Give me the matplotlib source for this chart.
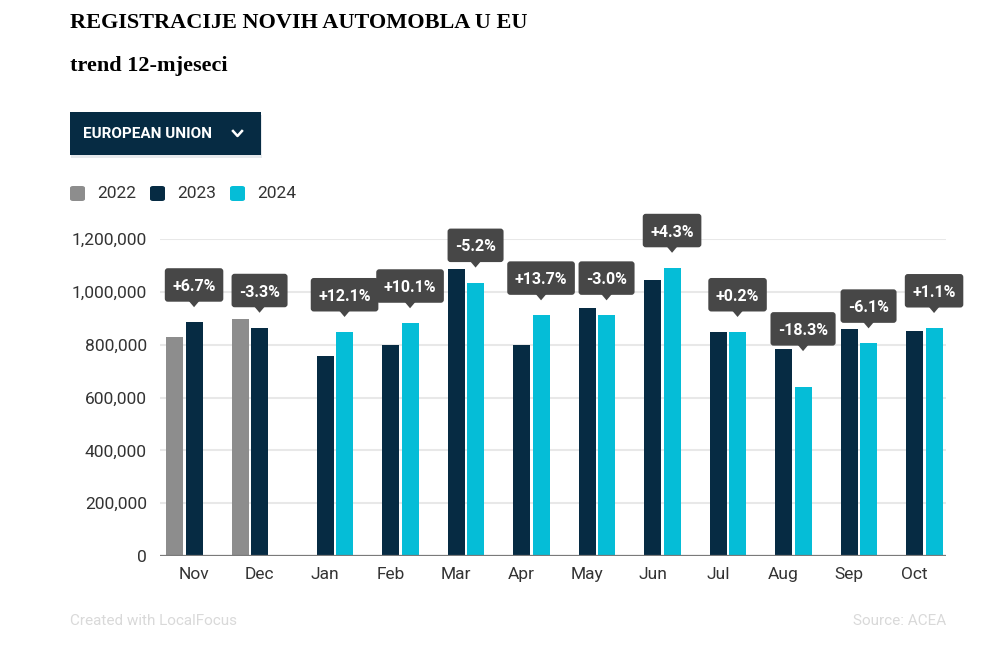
import numpy as np
import matplotlib.pyplot as plt
from matplotlib.patches import FancyBboxPatch, Polygon
from matplotlib.lines import Line2D

plt.rcParams["font.family"] = ["Roboto", "DejaVu Sans"]

# data (new car registrations, EU)
months = ["Nov", "Dec", "Jan", "Feb", "Mar", "Apr", "May", "Jun", "Jul", "Aug", "Sep", "Oct"]
v2022 = [828000, 896000] + [np.nan] * 10
v2023 = [885000, 864000, 758000, 800000, 1086000, 800000, 939000, 1044000, 847000, 785000, 858000, 853000]
v2024 = [np.nan, np.nan, 848000, 881000, 1035000, 911000, 911000, 1091000, 848000, 641000, 805000, 863000]
changes = ["+6.7%", "-3.3%", "+12.1%", "+10.1%", "-5.2%", "+13.7%", "-3.0%", "+4.3%",
           "+0.2%", "-18.3%", "-6.1%", "+1.1%"]
yticks = [0, 200000, 400000, 600000, 800000, 1000000, 1200000]

GRAY = "#8d8d8d"
NAVY = "#062b43"
CYAN = "#05bdd7"
BOX = "#474747"
TEXT = "#333333"

W, H = 1000, 653
fig = plt.figure(figsize=(W / 100, H / 100), dpi=100)
fig.patch.set_facecolor("white")

# axes placed in pixel units so the label boxes can be sized in pixels
ax_l, ax_r, ax_b, ax_t = 160, 946, 556, 239
ax = fig.add_axes([ax_l / W, 1 - ax_b / H, (ax_r - ax_l) / W, (ax_b - ax_t) / H])

x = np.arange(len(months))
slot = 19.5 / 65.5
bw = 17 / 65.5
ax.bar(x - slot, v2022, bw, color=GRAY, zorder=3)
ax.bar(x, v2023, bw, color=NAVY, zorder=3)
ax.bar(x + slot, v2024, bw, color=CYAN, zorder=3)

ax.set_xlim(-0.52, 11.48)
ax.set_ylim(0, 1.2e6)
ax.set_yticks(yticks)
ax.set_yticklabels([f"{v:,}" for v in yticks])
ax.set_xticks(x)
ax.set_xticklabels(months)
ax.tick_params(length=0, labelsize=12.5, colors=TEXT)
ax.tick_params(axis="y", pad=9.5)
ax.tick_params(axis="x", pad=8)
ax.yaxis.grid(True, color="#e8e8e8", lw=1.5)
ax.set_axisbelow(True)
for s in ax.spines.values():
    s.set_visible(False)
ax.axhline(0, color="#7a7a7a", lw=1.6, zorder=4)

# change labels: box with a small pointer over the current-year bar
dy = 1.2e6 / (ax_b - ax_t)   # data units per pixel (y)
dx = 12 / (ax_r - ax_l)      # data units per pixel (x)
renderer = fig.canvas.get_renderer()
box_h = 33.5
for i, lab in enumerate(changes):
    if np.isnan(v2024[i]):
        cur, other, xc = v2023[i], v2022[i], x[i]
    else:
        cur, other, xc = v2024[i], v2023[i], x[i] + slot
    box_bottom = max(cur + 20.5 * dy, other + 3 * dy)
    tip = box_bottom - 5.5 * dy
    t = ax.text(xc, box_bottom + box_h / 2 * dy, lab, ha="center", va="center_baseline",
                color="white", fontsize=11.5, fontweight="bold", zorder=7, clip_on=False)
    tw = t.get_window_extent(renderer).width
    bw_px = tw + 15
    ax.add_patch(FancyBboxPatch((xc - bw_px / 2 * dx, box_bottom), bw_px * dx, box_h * dy,
                                boxstyle=f"round,pad=0,rounding_size={3 * dx}",
                                mutation_aspect=dy / dx, fc=BOX, ec="none", zorder=6,
                                clip_on=False))
    ax.add_patch(Polygon([(xc - 5.5 * dx, box_bottom + 1 * dy), (xc + 5.5 * dx, box_bottom + 1 * dy),
                          (xc, tip)], closed=True, fc=BOX, ec="none", zorder=6, clip_on=False))

# titles
fig.text(70 / W, 1 - 28 / H, "REGISTRACIJE NOVIH AUTOMOBLA U EU", family="Liberation Serif",
         fontsize=16, fontweight="bold", va="baseline", ha="left", color="black")
fig.text(70 / W, 1 - 71 / H, "trend 12-mjeseci", family="Liberation Serif",
         fontsize=16, fontweight="bold", va="baseline", ha="left", color="black")

# dropdown box
shadow = FancyBboxPatch((71 / W, 1 - 158 / H), 191 / W, 43 / H, boxstyle="square,pad=0",
                        transform=fig.transFigure, fc="#d6dbe0", ec="none", alpha=0.6)
fig.patches.append(shadow)
drop = FancyBboxPatch((70 / W, 1 - 155 / H), 191 / W, 43 / H, boxstyle="square,pad=0",
                      transform=fig.transFigure, fc=NAVY, ec="none")
fig.patches.append(drop)
fig.text(83 / W, 1 - 133.5 / H, "EUROPEAN UNION", color="white", fontsize=11,
         fontweight="bold", va="center", ha="left")
fig.lines.append(Line2D([233 / W, 237.5 / W, 242 / W], [1 - 131 / H, 1 - 136 / H, 1 - 131 / H],
                        transform=fig.transFigure, color="white", lw=1.8))

# legend
for lx, tx, col, yr in [(70, 97, GRAY, "2022"), (150, 177, NAVY, "2023"), (230, 257, CYAN, "2024")]:
    sq = FancyBboxPatch((lx / W, 1 - 201 / H), 15 / W, 15 / H,
                        boxstyle="round,pad=0,rounding_size=0.003",
                        transform=fig.transFigure, fc=col, ec="none")
    fig.patches.append(sq)
    fig.text(tx / W, 1 - 193.5 / H, yr, color=TEXT, fontsize=12.5, va="center", ha="left")

# footer
fig.text(70 / W, 1 - 621 / H, "Created with LocalFocus", color="#d9d9d9", fontsize=11,
         va="center", ha="left")
fig.text(946 / W, 1 - 621 / H, "Source: ACEA", color="#d9d9d9", fontsize=11,
         va="center", ha="right")

fig.savefig("out.png", dpi=100)
